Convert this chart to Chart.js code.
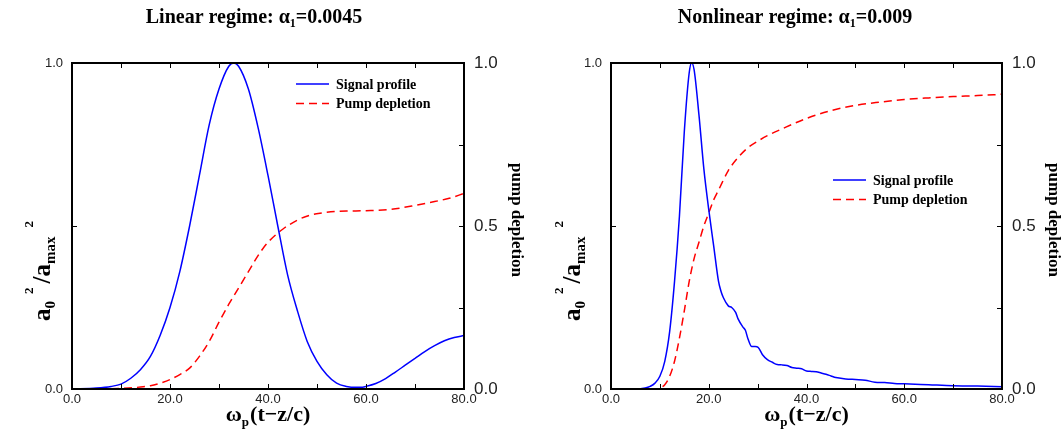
<!DOCTYPE html>
<html>
<head>
<meta charset="utf-8">
<script src="https://cdn.jsdelivr.net/npm/chart.js@4.4.1/dist/chart.umd.min.js"></script>
<style>
  body { margin: 0; background: #fff; }
  .panel { position: absolute; top: 0; height: 432px; }
</style>
</head>
<body>
<div class="panel" style="left:0;width:531px"><canvas id="linChart" width="531" height="432"></canvas></div>
<div class="panel" style="left:531px;width:532px"><canvas id="nonlinChart" width="532" height="432"></canvas></div>
<script>
// ---- linear regime, alpha1 = 0.0045 ----
var linSignalX = [0, 5, 8, 10, 12, 14, 16, 18, 20, 22, 24, 26, 28, 30, 32, 33, 34, 36, 38, 40, 42, 44, 46, 48, 50, 52, 54, 56, 58, 59, 60, 62, 64, 66, 68, 70, 72, 74, 76, 78, 80];
var linSignal  = [0, 0.003, 0.008, 0.015, 0.033, 0.06, 0.10, 0.165, 0.25, 0.36, 0.50, 0.655, 0.81, 0.92, 0.99, 1.0, 0.99, 0.92, 0.80, 0.655, 0.50, 0.35, 0.24, 0.146, 0.085, 0.044, 0.018, 0.008, 0.005, 0.005, 0.008, 0.017, 0.032, 0.052, 0.073, 0.094, 0.115, 0.133, 0.148, 0.158, 0.164];
var linPumpX = [0, 5, 10, 14, 16, 18, 20, 22, 24, 26, 28, 30, 32, 34, 36, 38, 40, 43, 46, 48.5, 51, 54, 57, 60, 65, 70, 74, 77, 80];
var linPump  = [0, 0, 0.002, 0.006, 0.01, 0.018, 0.029, 0.044, 0.064, 0.10, 0.146, 0.205, 0.26, 0.31, 0.36, 0.41, 0.45, 0.49, 0.518, 0.533, 0.54, 0.545, 0.546, 0.547, 0.551, 0.563, 0.575, 0.585, 0.60];

// ---- nonlinear regime, alpha1 = 0.009 ----
var nlSignalX = [0, 5, 7, 8, 9, 10, 11, 12, 13, 14, 15, 16, 16.5, 17, 18, 19, 20, 21, 22, 22.5, 23, 24, 24.7, 25.5, 26, 27, 27.5, 28, 28.8, 29.5, 30.1, 31, 32, 33, 34, 35, 36, 37, 38, 39, 40, 41, 42, 43, 44, 45, 46, 48, 50, 52, 54, 56, 58, 60, 65, 70, 75, 80];
var nlSignal  = [0, 0, 0.003, 0.008, 0.018, 0.039, 0.085, 0.176, 0.33, 0.53, 0.79, 0.97, 1.0, 0.98, 0.84, 0.675, 0.55, 0.44, 0.33, 0.30, 0.28, 0.255, 0.25, 0.235, 0.215, 0.19, 0.18, 0.155, 0.13, 0.13, 0.128, 0.105, 0.09, 0.082, 0.075, 0.074, 0.072, 0.066, 0.064, 0.062, 0.055, 0.054, 0.053, 0.049, 0.045, 0.04, 0.035, 0.031, 0.029, 0.027, 0.021, 0.02, 0.017, 0.016, 0.013, 0.01, 0.009, 0.007];
var nlPumpX = [0, 5, 9, 10, 11, 12, 13, 14, 15, 16, 17, 18, 19, 20, 21, 22, 24, 26, 28, 30, 32, 35, 40, 45, 50, 55, 60, 65, 70, 75, 80];
var nlPump  = [0, 0, 0, 0.003, 0.013, 0.039, 0.085, 0.156, 0.24, 0.33, 0.40, 0.45, 0.50, 0.54, 0.58, 0.61, 0.67, 0.71, 0.74, 0.76, 0.777, 0.798, 0.83, 0.854, 0.87, 0.88, 0.888, 0.893, 0.897, 0.90, 0.904];

var seriesNames = ['Signal profile', 'Pump depletion'];
var xTickLabels = [0, 20, 40, 60, 80];
var leftTickLabels = [0, 1];
var rightTickLabels = [0, 0.5, 1];

var SERIF = '"Liberation Serif", "Times New Roman", serif';
var SANS = '"Liberation Sans", Arial, sans-serif';

function toPoints(xs, ys) {
  return xs.map(function (x, i) { return { x: x, y: ys[i] }; });
}

// parts: [text, size, dy, gapAfter]
function drawRich(ctx, parts, x, y) {
  var total = 0;
  parts.forEach(function (p) {
    ctx.font = 'bold ' + p[1] + 'px ' + SERIF;
    p.w = ctx.measureText(p[0]).width + (p[3] || 0);
    total += p.w;
  });
  var cx = x - total / 2;
  ctx.textAlign = 'left';
  ctx.textBaseline = 'alphabetic';
  parts.forEach(function (p) {
    ctx.font = 'bold ' + p[1] + 'px ' + SERIF;
    ctx.fillText(p[0], cx, y + p[2]);
    cx += p.w;
  });
}

function makeDecor(cfg) {
  return {
    id: 'decor',
    afterDatasetsDraw: function (chart) {
      var ctx = chart.ctx, a = chart.chartArea;
      var sx = chart.scales.x, sy = chart.scales.y, sy2 = chart.scales.y2;
      ctx.save();
      ctx.strokeStyle = '#000';
      // inward tick marks
      ctx.lineWidth = 1;
      ctx.beginPath();
      sx.ticks.forEach(function (t) {
        if (t.value <= 0 || t.value >= 80) return;
        var px = Math.round(sx.getPixelForValue(t.value)) + 0.5;
        ctx.moveTo(px, a.bottom); ctx.lineTo(px, a.bottom - 5);
        ctx.moveTo(px, a.top); ctx.lineTo(px, a.top + 5);
      });
      sy.ticks.forEach(function (t) {
        if (t.value <= 0 || t.value >= 1) return;
        var py = Math.round(sy.getPixelForValue(t.value)) + 0.5;
        ctx.moveTo(a.left, py); ctx.lineTo(a.left + 5, py);
      });
      sy2.ticks.forEach(function (t) {
        if (t.value <= 0 || t.value >= 1) return;
        var py = Math.round(sy2.getPixelForValue(t.value)) + 0.5;
        ctx.moveTo(a.right, py); ctx.lineTo(a.right - 5, py);
      });
      ctx.stroke();
      // frame
      ctx.lineWidth = 2;
      ctx.strokeRect(a.left, a.top, a.right - a.left, a.bottom - a.top);

      ctx.fillStyle = '#000';
      // title
      drawRich(ctx, [[cfg.titleText, 20, 0], ['\u03b1', 20, 0], ['1', 12, 4], [cfg.titleValue, 20, 0]], cfg.titleX, 23);
      // x axis title
      drawRich(ctx, [['\u03c9', 22, 0], ['p', 13, 5, 1], ['(t\u2212z/c)', 22, 0]], (a.left + a.right) / 2, 421);
      // left y axis title
      ctx.save();
      ctx.translate(cfg.yTitleX, 271);
      ctx.rotate(-Math.PI / 2);
      drawRich(ctx, [['a', 25, 0], ['0', 15, 5, 7], ['2', 13, -17, 4], ['/a', 25, 0], ['max', 15, 5, 9], ['2', 13, -17]], 0, 0);
      ctx.restore();
      // right y axis title
      ctx.save();
      ctx.translate(cfg.y2TitleX, 220);
      ctx.rotate(Math.PI / 2);
      drawRich(ctx, [['pump depletion', 17, 0]], 0, 0);
      ctx.restore();
      // legend
      chart.data.datasets.forEach(function (ds, i) {
        var ly = cfg.legendY + i * 19.5;
        ctx.save();
        ctx.strokeStyle = ds.borderColor;
        ctx.lineWidth = 1.5;
        ctx.setLineDash(ds.borderDash || []);
        ctx.beginPath();
        ctx.moveTo(cfg.legendX, ly); ctx.lineTo(cfg.legendX + 33, ly);
        ctx.stroke();
        ctx.restore();
        ctx.font = 'bold 14px ' + SERIF;
        ctx.textAlign = 'left';
        ctx.textBaseline = 'middle';
        ctx.fillText(ds.label, cfg.legendX + 40, ly + 1);
      });
      ctx.restore();
    }
  };
}

function makeChart(id, sig, pump, cfg) {
  return new Chart(document.getElementById(id).getContext('2d'), {
    type: 'line',
    data: {
      datasets: [
        {
          label: seriesNames[0],
          data: sig,
          yAxisID: 'y',
          borderColor: '#0000ff',
          borderWidth: 1.5,
          pointRadius: 0,
          cubicInterpolationMode: 'monotone',
          fill: false
        },
        {
          label: seriesNames[1],
          data: pump,
          yAxisID: 'y2',
          borderColor: '#ff0000',
          borderWidth: 1.5,
          borderDash: [8, 5],
          pointRadius: 0,
          cubicInterpolationMode: 'monotone',
          fill: false
        }
      ]
    },
    options: {
      responsive: false,
      animation: false,
      devicePixelRatio: 1,
      layout: { padding: { top: 63, left: 0, right: 0, bottom: 0 } },
      plugins: { legend: { display: false }, tooltip: { enabled: false }, title: { display: false } },
      scales: {
        x: {
          type: 'linear', min: 0, max: 80,
          grid: { display: false, drawTicks: false }, border: { display: false },
          ticks: {
            stepSize: 10, autoSkip: false, maxRotation: 0, padding: 3, color: '#222',
            font: { family: SANS, size: 13 },
            callback: function (v) { return xTickLabels.indexOf(v) >= 0 ? v.toFixed(1) : ''; }
          },
          afterFit: function (s) { s.height = 43; }
        },
        y: {
          position: 'left', min: 0, max: 1,
          grid: { display: false, drawTicks: false }, border: { display: false },
          ticks: {
            stepSize: 0.5, padding: 9, color: '#222',
            font: { family: SANS, size: 13 },
            callback: function (v) { return leftTickLabels.indexOf(v) >= 0 ? v.toFixed(1) : ''; }
          },
          afterFit: function (s) { s.width = cfg.leftW; }
        },
        y2: {
          position: 'right', min: 0, max: 1,
          grid: { display: false, drawTicks: false }, border: { display: false },
          ticks: {
            stepSize: 0.25, padding: 10, color: '#222',
            font: { family: SANS, size: 17 },
            callback: function (v) { return rightTickLabels.indexOf(v) >= 0 ? v.toFixed(1) : ''; }
          },
          afterFit: function (s) { s.width = cfg.rightW; }
        }
      }
    },
    plugins: [makeDecor(cfg)]
  });
}

makeChart('linChart', toPoints(linSignalX, linSignal), toPoints(linPumpX, linPump), {
  leftW: 72, rightW: 67,
  titleText: 'Linear regime: ', titleValue: '=0.0045', titleX: 254,
  yTitleX: 50, y2TitleX: 512,
  legendX: 296, legendY: 84
});

makeChart('nonlinChart', toPoints(nlSignalX, nlSignal), toPoints(nlPumpX, nlPump), {
  leftW: 80, rightW: 61,
  titleText: 'Nonlinear regime: ', titleValue: '=0.009', titleX: 264,
  yTitleX: 49, y2TitleX: 518,
  legendX: 302, legendY: 180
});
</script>
</body>
</html>
